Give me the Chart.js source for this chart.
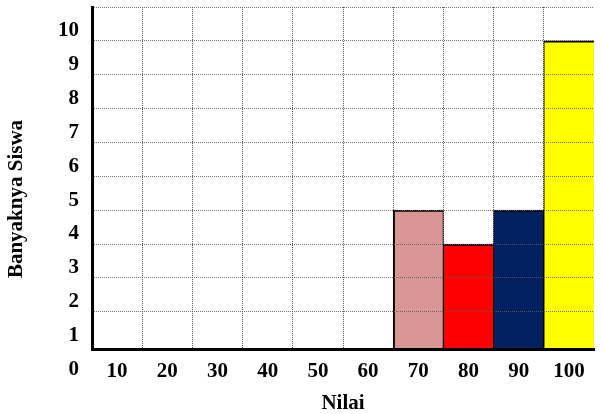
<!DOCTYPE html>
<html>
<head>
<meta charset="utf-8">
<script src="https://cdn.jsdelivr.net/npm/chart.js@4.4.0/dist/chart.umd.min.js"></script>
<style>
  html, body { margin: 0; padding: 0; background: #fff; overflow: hidden; }
  #wrap { width: 602px; height: 414px; position: relative; }
</style>
</head>
<body>
<div id="wrap"><canvas id="grafik"></canvas></div>
<script>
// Data nilai siswa
const nilai = ["10", "20", "30", "40", "50", "60", "70", "80", "90", "100"];
const banyakSiswa = [0, 0, 0, 0, 0, 0, 5, 4, 5, 10];
const yTicks = [0, 1, 2, 3, 4, 5, 6, 7, 8, 9, 10, 11];

const warnaBatang = ["#fff", "#fff", "#fff", "#fff", "#fff", "#fff", "#D99694", "#FF0000", "#002060", "#FFFF00"];

document.addEventListener("DOMContentLoaded", function () {
    const font = { family: "'Liberation Serif', 'Times New Roman', serif", size: 21, weight: "bold" };
    const ctx = document.getElementById("grafik").getContext("2d");

    // tepi batang: kiri/kanan tipis, atas tebal
    const tepi = banyakSiswa.map((v, i) => {
        if (i === 6) return { left: 2, right: 1, top: 2, bottom: 0 };
        if (i === 9) return { left: 1, right: 0, top: 2, bottom: 0 };
        return { left: 1, right: 1, top: 2, bottom: 0 };
    });

    new Chart(ctx, {
        type: "bar",
        data: {
            labels: nilai,
            datasets: [{
                label: "Banyaknya Siswa",
                data: banyakSiswa,
                backgroundColor: warnaBatang,
                borderColor: "#000",
                borderWidth: tepi,
                barPercentage: 1,
                categoryPercentage: 1,
                clip: 0
            }]
        },
        options: {
            responsive: true,
            maintainAspectRatio: false,
            animation: false,
            layout: { padding: { top: 7, right: 8, bottom: 0, left: 0 } },
            plugins: {
                legend: { display: false },
                tooltip: { enabled: false }
            },
            scales: {
                x: {
                    afterFit: function (s) { s.height = 65; s.paddingLeft = 0; s.paddingRight = 0; },
                    ticks: { font: font, color: "#000", padding: 10, maxRotation: 0, autoSkip: false },
                    grid: {
                        color: c => c.tick ? "#555" : "rgba(0,0,0,0)",
                        drawTicks: false,
                        offset: true,
                        z: 0
                    },
                    border: { color: "#000", width: 3, dash: [1, 1], z: 2 },
                    title: { display: true, text: "Nilai", font: font, color: "#000", padding: { top: 0, bottom: -2 } }
                },
                y: {
                    min: 0.9,
                    max: 11,
                    afterBuildTicks: function (s) { s.ticks = yTicks.map(v => ({ value: v })); },
                    afterFit: function (s) { s.width = 92; s.paddingTop = 0; s.paddingBottom = 0; },
                    ticks: {
                        font: font,
                        color: "#000",
                        padding: 13,
                        labelOffset: -10,
                        autoSkip: false,
                        callback: v => v === 11 ? "" : v
                    },
                    grid: {
                        color: c => (c.tick && c.tick.value > 1) ? "rgba(90,90,90,0.85)" : "rgba(0,0,0,0)",
                        drawTicks: false,
                        z: 1
                    },
                    border: { color: "#000", width: 3, dash: [1, 1], z: 2 },
                    // spasi di belakang supaya judul turun sedikit seperti aslinya
                    title: { display: true, text: "Banyaknya Siswa" + "\u00A0".repeat(8), font: font, color: "#000", padding: { top: 4, bottom: 0 } }
                }
            }
        }
    });
});
</script>
</body>
</html>
